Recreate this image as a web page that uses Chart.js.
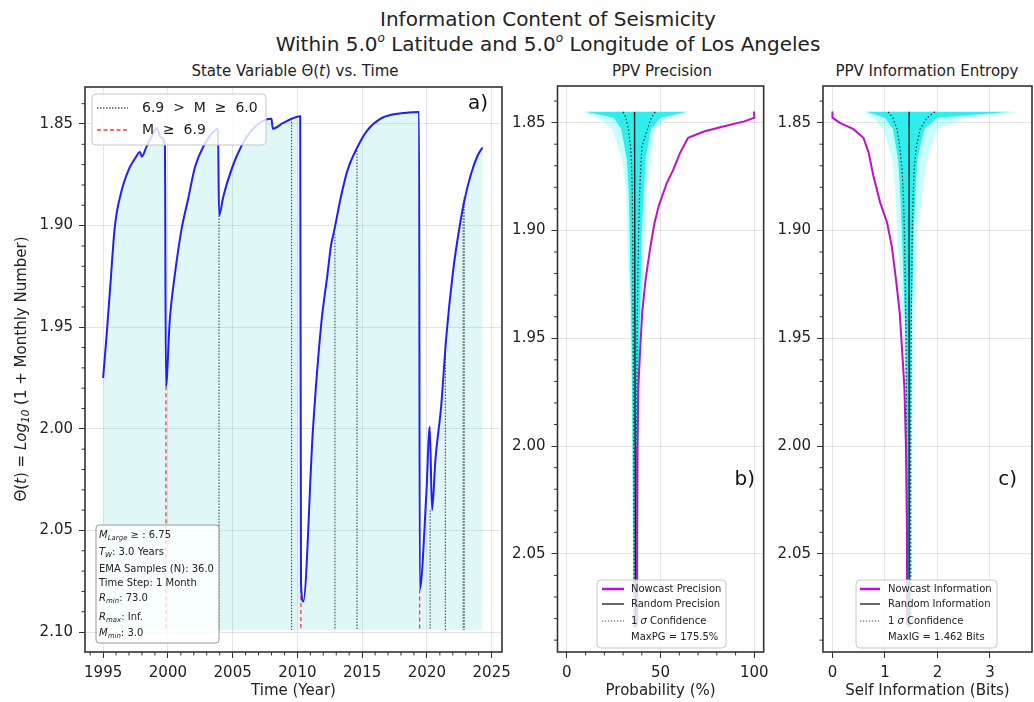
<!DOCTYPE html>
<html>
<head>
<meta charset="utf-8">
<script src="https://cdn.jsdelivr.net/npm/chart.js@4.4.1/dist/chart.umd.min.js"></script>
<style>
  html, body { margin: 0; padding: 0; background: #fff; }
  body { width: 1034px; height: 702px; position: relative; overflow: hidden;
         font-family: 'DejaVu Sans', sans-serif; color: #222; }
  canvas { position: absolute; top: 0; }
  .t { position: absolute; white-space: nowrap; transform: translateX(-50%); line-height: 1; }
  .t sup { font-size: 12px; vertical-align: 0; position: relative; top: -9px; line-height: 0; }
</style>
</head>
<body>
<div class="t" style="left:548px;top:9px;font-size:20px;">Information Content of Seismicity</div>
<div class="t" style="left:548px;top:34px;font-size:20px;">Within 5.0<sup><i>o</i></sup> Latitude and 5.0<sup><i>o</i></sup> Longitude of Los Angeles</div>
<div class="t" style="left:295px;top:64px;font-size:15px;">State Variable Θ(<i>t</i>) vs. Time</div>
<div class="t" style="left:662px;top:64px;font-size:15px;">PPV Precision</div>
<div class="t" style="left:927px;top:64px;font-size:15px;">PPV Information Entropy</div>

<canvas id="ca" width="520" height="702" style="left:0px"></canvas>
<canvas id="cb" width="270" height="702" style="left:505px"></canvas>
<canvas id="cc" width="259" height="702" style="left:775px"></canvas>

<script>
// ------------------------------------------------------------------
// Panel a) state variable vs time
// ------------------------------------------------------------------
const T_A = [1995.0, 1995.28, 1995.55, 1995.9, 1996.44, 1996.95, 1997.46, 1997.85, 1997.98, 1998.36,
  1998.8, 1999.13, 1999.46, 1999.77, 1999.85, 2000.15, 2000.54, 2001.05, 2001.56, 2002.1,
  2002.85, 2003.36, 2003.87, 2003.95, 2004.27, 2004.6, 2005.3, 2006.07, 2006.84, 2007.5,
  2008.0, 2008.1, 2008.9, 2009.55, 2010.22, 2010.28, 2010.45, 2011.2, 2011.82, 2012.33,
  2012.6, 2012.85, 2013.36, 2013.87, 2014.64, 2015.4, 2016.43, 2017.45, 2018.2, 2019.4,
  2019.45, 2019.95, 2020.22, 2020.4, 2020.66, 2021.1, 2021.5, 2022.0, 2022.52, 2022.9,
  2023.42, 2023.93, 2024.3];
const THETA_A = [1.975, 1.953, 1.930, 1.9007, 1.8825, 1.8728, 1.867, 1.8638, 1.866, 1.861,
  1.8555, 1.852, 1.8565, 1.861, 1.979, 1.946, 1.924, 1.902, 1.887, 1.871,
  1.8597, 1.8548, 1.8523, 1.895, 1.886, 1.8785, 1.866, 1.8564, 1.8507, 1.848,
  1.8474, 1.8523, 1.8495, 1.8474, 1.8462, 2.076, 2.085, 2.0005, 1.9498, 1.9236,
  1.9096, 1.9023, 1.8859, 1.8728, 1.8613, 1.8531, 1.8474, 1.8452, 1.8446, 1.8441,
  2.079, 2.033, 1.999, 2.040, 2.015, 1.989, 1.9547, 1.9236, 1.9007, 1.8875,
  1.8744, 1.8654, 1.8616];
const FILL_BASE = 2.099;

// events 6.0 <= M < 6.9 (dotted) and M >= 6.9 (red dashed)
const MID_T   = [2003.95, 2009.55, 2012.9, 2014.6, 2020.25, 2021.43, 2022.8, 2022.88];
const MID_TOP = [1.895, 1.8474, 1.904, 1.863, 2.040, 1.958, 1.889, 1.886];
const BIG_T   = [1999.85, 2010.27, 2019.44];
const BIG_TOP = [1.979, 2.065, 2.079];

const X_TICKS_A = [1995, 2000, 2005, 2010, 2015, 2020, 2025];
const Y_TICKS_A = [1.85, 1.90, 1.95, 2.00, 2.05, 2.10];

// ------------------------------------------------------------------
// Panels b) and c) (theta on the vertical axis)
// ------------------------------------------------------------------
const Y_TICKS_BC = [1.85, 1.90, 1.95, 2.00, 2.05];
const X_TICKS_B = [0, 50, 100];
const X_TICKS_C = [0, 1, 2, 3];

const TH_NOW_B = [1.8448, 1.8477, 1.8494, 1.8517, 1.854, 1.857, 1.864, 1.8718, 1.878, 1.8887,
  1.8964, 1.9073, 1.9228, 1.938, 1.957, 1.973, 2.0, 2.04, 2.083];
const NOW_B = [99.8, 100, 94.6, 84, 73.5, 64.7, 60.4, 56.8, 53.3, 49,
  46.8, 44.6, 42, 40.2, 39, 38.1, 37.7, 37.5, 37.4];
const TH_NOW_C = [1.8448, 1.8477, 1.8502, 1.853, 1.857, 1.864, 1.8747, 1.8872, 1.8963, 1.9073,
  1.9228, 1.938, 1.957, 1.973, 2.0, 2.04, 2.083];
const NOW_C = [0.0, 0.0, 0.15, 0.40, 0.59, 0.69, 0.78, 0.91, 1.04, 1.13,
  1.21, 1.28, 1.33, 1.37, 1.40, 1.42, 1.42];

// random trials cloud: outer envelope and dense core
const TH_BAND   = [1.845, 1.8477, 1.853, 1.867, 1.8825, 1.90, 1.95, 2.00, 2.084];
const B_OUT_LO  = [7.9, 17, 24, 29.5, 31.5, 32, 34, 34.7, 35.5];
const B_OUT_HI  = [65.8, 54, 47, 45, 42.6, 41.6, 39.5, 38.4, 38];
const B_CORE_LO = [10, 25, 29, 32, 33, 33.5, 34.5, 35, 35.6];
const B_CORE_HI = [64, 50, 45, 42, 41, 40, 38.8, 38, 37.6];
const C_OUT_LO  = [0.59, 0.78, 0.97, 1.14, 1.2, 1.23, 1.35, 1.37, 1.40];
const C_OUT_HI  = [3.62, 2.56, 1.99, 1.8, 1.71, 1.63, 1.54, 1.52, 1.50];
const C_CORE_LO = [0.65, 1.0, 1.15, 1.25, 1.29, 1.32, 1.39, 1.41, 1.43];
const C_CORE_HI = [3.4, 2.0, 1.75, 1.62, 1.58, 1.55, 1.5, 1.49, 1.48];

// 1 sigma confidence and random mean
const TH_SIG   = [1.845, 1.8477, 1.853, 1.861, 1.87, 1.8825, 1.90, 1.9457, 2.00, 2.084];
const B_SIG_LO = [30, 31.5, 32.8, 34, 34.5, 34.9, 35.1, 35.4, 35.7, 35.9];
const B_SIG_HI = [47, 45, 43, 40, 39.5, 38.8, 38.3, 37.5, 37.3, 37.2];
const C_SIG_LO = [1.06, 1.15, 1.23, 1.28, 1.32, 1.35, 1.37, 1.40, 1.41, 1.42];
const C_SIG_HI = [1.95, 1.8, 1.67, 1.6, 1.56, 1.54, 1.52, 1.50, 1.49, 1.49];
const TH_RAND = [1.845, 2.084];
const B_RAND  = [36.1, 36.6];
const C_RAND  = [1.46, 1.46];

// ------------------------------------------------------------------
const BLUE = '#2020f0';
const MAGENTA = '#c010c8';
const GRID = 'rgba(0,0,0,0.1)';
const FONT = "'DejaVu Sans', sans-serif";

Chart.defaults.font.family = FONT;
Chart.defaults.font.size = 15;
Chart.defaults.color = '#222';
Chart.defaults.animation = false;
Chart.defaults.elements.point.radius = 0;
Chart.defaults.plugins.legend.display = false;
Chart.defaults.plugins.tooltip.enabled = false;

function pts(xs, ys) { return xs.map((x, i) => ({ x: x, y: ys[i] })); }
// closed outline of a band (down the low side, back up the high side)
function shape(lo, hi, ys) { return pts(lo, ys).concat(pts(hi, ys).reverse()); }

function minorTicks(lo, hi, step, skip) {
  const out = [];
  for (let k = lo; k <= hi; k += step) if (k % skip !== 0) out.push(k);
  return out;
}

function axis(min, max, ticks, size, fmt, extra) {
  return Object.assign({
    type: 'linear', min: min, max: max,
    afterBuildTicks: s => { s.ticks = ticks.map(v => ({ value: v })); },
    afterFit: s => { if (s.isHorizontal()) s.height = size; else s.width = size; },
    grid: { color: GRID, tickColor: '#333', tickLength: 6, tickWidth: 1 },
    border: { display: false },
    ticks: { padding: 6, maxRotation: 0, autoSkip: false, color: '#222', callback: fmt }
  }, extra || {});
}

function rich(ctx, x, y, parts, size) {
  parts.forEach(([s, st]) => {
    const sub = st && st.indexOf('sub') >= 0;
    const it = st && st.indexOf('i') === 0;
    const fs = sub ? size * 0.7 : size;
    ctx.font = (it ? 'italic ' : '') + fs + 'px ' + FONT;
    ctx.fillText(s, x, y + (sub ? size * 0.3 : 0));
    x += ctx.measureText(s).width;
  });
  return x;
}
function richWidth(ctx, parts, size) {
  let w = 0;
  parts.forEach(([s, st]) => {
    const sub = st && st.indexOf('sub') >= 0;
    const it = st && st.indexOf('i') === 0;
    ctx.font = (it ? 'italic ' : '') + (sub ? size * 0.7 : size) + 'px ' + FONT;
    w += ctx.measureText(s).width;
  });
  return w;
}

function roundBox(ctx, x, y, w, h, r, fill, stroke) {
  ctx.beginPath();
  ctx.moveTo(x + r, y);
  ctx.arcTo(x + w, y, x + w, y + h, r);
  ctx.arcTo(x + w, y + h, x, y + h, r);
  ctx.arcTo(x, y + h, x, y, r);
  ctx.arcTo(x, y, x + w, y, r);
  ctx.closePath();
  ctx.fillStyle = fill; ctx.fill();
  ctx.strokeStyle = stroke; ctx.lineWidth = 1; ctx.stroke();
}

function legend(ctx, dx, box, rows) {
  roundBox(ctx, box[0] - dx, box[1], box[2], box[3], 4, 'rgba(255,255,255,0.82)', '#c8c8c8');
  rows.forEach(r => {
    if (r.line) {
      ctx.strokeStyle = r.line.color; ctx.lineWidth = r.line.width;
      ctx.setLineDash(r.line.dash || []);
      ctx.beginPath(); ctx.moveTo(r.x0 - dx, r.y); ctx.lineTo(r.x1 - dx, r.y); ctx.stroke();
      ctx.setLineDash([]);
    }
    ctx.fillStyle = '#222'; ctx.textBaseline = 'middle'; ctx.textAlign = 'left';
    rich(ctx, r.tx - dx, r.y, r.parts, r.size);
  });
}

function decor(minorX, minorY, extra) {
  return {
    id: 'decor',
    afterDraw(chart) {
      const { ctx, chartArea: a, scales } = chart;
      ctx.save();
      ctx.strokeStyle = '#333'; ctx.lineWidth = 1;
      ctx.beginPath();
      minorX.forEach(v => { const p = scales.x.getPixelForValue(v); ctx.moveTo(p, a.bottom); ctx.lineTo(p, a.bottom + 3.5); });
      minorY.forEach(v => { const p = scales.y.getPixelForValue(v); ctx.moveTo(a.left, p); ctx.lineTo(a.left - 3.5, p); });
      ctx.stroke();
      ctx.lineWidth = 1.6;
      ctx.strokeRect(a.left, a.top, a.right - a.left, a.bottom - a.top);
      ctx.restore();
      if (extra) { ctx.save(); extra(ctx, chart); ctx.restore(); }
    }
  };
}

const fmt2 = v => v.toFixed(2);
const fmt0 = v => String(v);
const xTitle = text => ({ display: true, text: text, font: { size: 15 }, color: '#222', padding: { top: 2, bottom: 2 } });

// ------------------------------------------------------------------
// a)
// ------------------------------------------------------------------
const eventSets = MID_T.map((t, i) => ({
  data: [{ x: t, y: MID_TOP[i] }, { x: t, y: FILL_BASE }],
  borderColor: '#555', borderWidth: 1.2, borderDash: [1.5, 1.5], fill: false
})).concat(BIG_T.map((t, i) => ({
  data: [{ x: t, y: BIG_TOP[i] }, { x: t, y: FILL_BASE }],
  borderColor: '#ff3b3b', borderWidth: 1.3, borderDash: [4, 3], fill: false
})));

const PARAM_LINES = [
  [535, [['M', 'i'], ['Large', 'isub'], [' ≥ : 6.75', '']]],
  [552, [['T', 'i'], ['W', 'isub'], [': 3.0 Years', '']]],
  [569, [['EMA Samples (N): 36.0', '']]],
  [583, [['Time Step: 1 Month', '']]],
  [598, [['R', 'i'], ['min', 'isub'], [': 73.0', '']]],
  [617, [['R', 'i'], ['max', 'isub'], [': Inf.', '']]],
  [633, [['M', 'i'], ['min', 'isub'], [': 3.0', '']]]
];

function drawA(ctx, chart) {
  // legend
  legend(ctx, 0, [92, 94, 174, 51], [
    { y: 108, x0: 97, x1: 128, tx: 142, size: 14, line: { color: '#555', width: 1.3, dash: [1.5, 1.5] },
      parts: [['6.9  >  M  ≥  6.0', '']] },
    { y: 130, x0: 97, x1: 128, tx: 142, size: 14, line: { color: '#ff3b3b', width: 1.3, dash: [4, 2.5] },
      parts: [['M  ≥  6.9', '']] }
  ]);
  // panel tag
  ctx.fillStyle = '#111'; ctx.font = '20px ' + FONT; ctx.textAlign = 'right'; ctx.textBaseline = 'middle';
  ctx.fillText('a)', 488, 104);
  // parameter box
  roundBox(ctx, 96, 525, 123, 118, 3, 'rgba(255,255,255,0.78)', '#9a9a9a');
  ctx.fillStyle = '#222'; ctx.textAlign = 'left'; ctx.textBaseline = 'middle';
  PARAM_LINES.forEach(([y, parts]) => rich(ctx, 99, y, parts, 10));
  // y-axis title
  const yt = [['Θ(', ''], ['t', 'i'], [') = ', ''], ['Log', 'i'], ['10', 'isub'], [' (1 + Monthly Number)', '']];
  const w = richWidth(ctx, yt, 15);
  ctx.translate(22, 369); ctx.rotate(-Math.PI / 2);
  ctx.fillStyle = '#222';
  rich(ctx, -w / 2, 0, yt, 15);
}

new Chart(document.getElementById('ca'), {
  type: 'line',
  data: {
    datasets: [{
      data: pts(T_A, THETA_A), borderColor: BLUE, borderWidth: 2,
      cubicInterpolationMode: 'monotone',
      fill: { value: FILL_BASE }, backgroundColor: 'rgba(0,190,190,0.12)'
    }].concat(eventSets)
  },
  options: {
    responsive: false,
    layout: { padding: { left: 0, top: 87, right: 18, bottom: 0 } },
    plugins: { filler: { drawTime: 'beforeDatasetsDraw' } },
    scales: {
      x: axis(1993.6, 2025.8, X_TICKS_A, 50, fmt0, { title: xTitle('Time (Year)') }),
      y: axis(1.8318, 2.1098, Y_TICKS_A, 85, fmt2, { reverse: true })
    }
  },
  plugins: [decor(minorTicks(1994, 2025, 1, 5), minorTicks(184, 210, 1, 5).map(k => k / 100), drawA)]
});

// ------------------------------------------------------------------
// b) and c)
// ------------------------------------------------------------------
function sidePanel(id, xmin, xmax, xticks, yWidth, padRight, title, sets, minorX, extra) {
  new Chart(document.getElementById(id), {
    type: 'line',
    data: { datasets: sets },
    options: {
      responsive: false,
      layout: { padding: { left: 0, top: 86, right: padRight, bottom: 0 } },
      scales: {
        x: axis(xmin, xmax, xticks, 50, fmt0, { title: xTitle(title) }),
        y: axis(1.833, 2.0955, Y_TICKS_BC, yWidth, fmt2, { reverse: true })
      }
    },
    plugins: [decor(minorX, minorTicks(184, 209, 1, 5).map(k => k / 100), extra)]
  });
}

function sideSets(nowX, nowY, randX, sigLo, sigHi, outLo, outHi, coreLo, coreHi) {
  return [
    { data: pts(nowX, nowY), borderColor: MAGENTA, borderWidth: 2, fill: false },
    { data: pts(randX, TH_RAND), borderColor: '#222', borderWidth: 1.4, fill: false },
    { data: pts(sigLo, TH_SIG), borderColor: '#333', borderWidth: 1.3, borderDash: [1.5, 2.2], fill: false },
    { data: pts(sigHi, TH_SIG), borderColor: '#333', borderWidth: 1.3, borderDash: [1.5, 2.2], fill: false },
    { data: shape(coreLo, coreHi, TH_BAND), borderColor: 'rgba(0,0,0,0)', borderWidth: 0.01,
      fill: 'shape', backgroundColor: 'rgba(20,235,235,0.85)' },
    { data: shape(outLo, outHi, TH_BAND), borderColor: 'rgba(0,0,0,0)', borderWidth: 0.01,
      fill: 'shape', backgroundColor: 'rgba(0,255,255,0.22)' }
  ];
}

function sideLegend(x0, x1, tx, names, last) {
  return [
    { y: 589, x0, x1, tx, size: 10, line: { color: MAGENTA, width: 2.5 }, parts: [[names[0], '']] },
    { y: 604, x0, x1, tx, size: 10, line: { color: '#333', width: 1.5 }, parts: [[names[1], '']] },
    { y: 621, x0, x1, tx, size: 10, line: { color: '#444', width: 1.2, dash: [1.2, 1.8] },
      parts: [['1 ', ''], ['σ', 'i'], [' Confidence', '']] },
    { y: 637, x0, x1, tx, size: 10, parts: [[last, '']] }
  ];
}

sidePanel('cb', -5, 105, X_TICKS_B, 52.5, 8.5, 'Probability (%)',
  sideSets(NOW_B, TH_NOW_B, B_RAND, B_SIG_LO, B_SIG_HI, B_OUT_LO, B_OUT_HI, B_CORE_LO, B_CORE_HI),
  [10, 20, 30, 40, 60, 70, 80, 90],
  (ctx) => {
    legend(ctx, 505, [597, 580, 129, 68],
      sideLegend(602, 624, 631, ['Nowcast Precision', 'Random Precision'], 'MaxPG = 175.5%'));
    ctx.fillStyle = '#111'; ctx.font = '20px ' + FONT; ctx.textAlign = 'right'; ctx.textBaseline = 'middle';
    ctx.fillText('b)', 755 - 505, 480);
  });

sidePanel('cc', -0.18, 3.80, X_TICKS_C, 48, 2, 'Self Information (Bits)',
  sideSets(NOW_C, TH_NOW_C, C_RAND, C_SIG_LO, C_SIG_HI, C_OUT_LO, C_OUT_HI, C_CORE_LO, C_CORE_HI),
  [],
  (ctx) => {
    legend(ctx, 775, [856, 580, 141, 68],
      sideLegend(860, 880, 888, ['Nowcast Information', 'Random Information'], 'MaxIG = 1.462 Bits'));
    ctx.fillStyle = '#111'; ctx.font = '20px ' + FONT; ctx.textAlign = 'right'; ctx.textBaseline = 'middle';
    ctx.fillText('c)', 1017 - 775, 480);
  });
</script>
</body>
</html>
